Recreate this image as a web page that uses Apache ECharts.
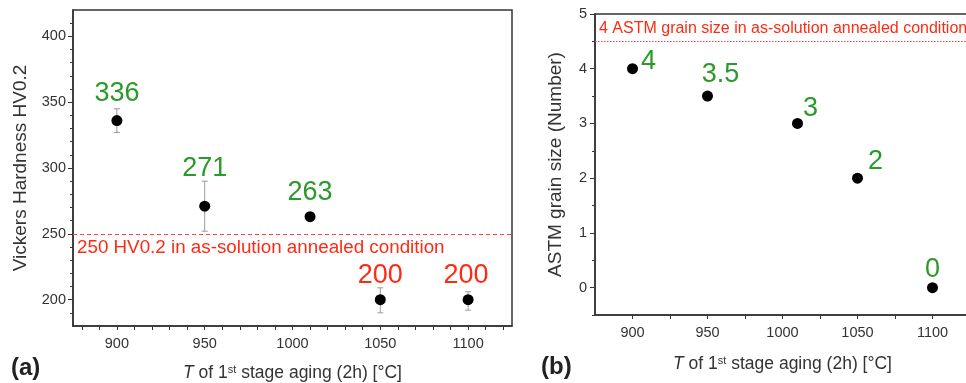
<!DOCTYPE html>
<html>
<head>
<meta charset="utf-8">
<script src="https://cdn.jsdelivr.net/npm/echarts@6/dist/echarts.min.js"></script>
<style>html,body{margin:0;padding:0;background:#fff;}#c{width:966px;height:383px;}</style>
</head>
<body>
<div id="c"></div>
<script>
// ---- Data ----
const tempsA = [900, 950, 1010, 1050, 1100];
const hardness = [336, 271, 263, 200, 200];
const hardErrUp = [345, 290, 263, 209, 206];
const hardErrDown = [327, 252, 263, 190, 192];
const hardLabels = ['336', '271', '263', '200', '200'];
const hardBase = 250;
const hardBaseText = '250 HV0.2 in as-solution annealed condition';

const tempsB = [900, 950, 1010, 1050, 1100];
const grain = [4, 3.5, 3, 2, 0];
const grainLabels = ['4', '3.5', '3', '2', '0'];
const grainBase = 4.5;
const grainBaseText = '4 ASTM grain size in as-solution annealed condition';

const xTickLabels = [900, 950, 1000, 1050, 1100];
const xMinorTicksA = [880, 890, 900, 910, 920, 930, 940, 950, 960, 970, 980, 990, 1000, 1010, 1020, 1030, 1040, 1050, 1060, 1070, 1080, 1090, 1100, 1110, 1120];
const xTicksB = [900, 925, 950, 975, 1000, 1025, 1050, 1075, 1100];
const yTickLabelsA = [200, 250, 300, 350, 400];
const yMinorTicksA = [190, 210, 220, 230, 240, 260, 270, 280, 290, 310, 320, 330, 340, 360, 370, 380, 390, 410];
const yTickLabelsB = [0, 1, 2, 3, 4, 5];
const yMinorTicksB = [-0.5, 0.5, 1.5, 2.5, 3.5, 4.5];

// ---- Styles ----
const FONT = 'Liberation Sans';
const AX = '#333';
const GREEN = '#2a9a2a';
const RED = '#ff2a14';
const LINE_RED = '#ff4040';

const hardLabelColors = ['g', 'g', 'g', 'r', 'r'];
const hardLabelOffsets = [[0, -27], [0, -38], [0, -24], [0, -24], [-2, -24]];
const grainLabelOffsets = [[16, -7.5], [13, -21.5], [13, -14.5], [18, -16.5], [0, -18.5]];

const plain = v => String(v);

function xAxisCfg(gridIndex, labels, ticks, nameGap) {
  return {
    type: 'value', gridIndex, min: 875, max: 1125,
    name: '{i|T} of 1{s|st} stage aging (2h) [°C]', nameLocation: 'middle', nameGap,
    nameTextStyle: {
      fontSize: 17.5, fontFamily: FONT, color: AX,
      rich: {
        i: { fontStyle: 'italic', fontSize: 17.5, fontFamily: FONT, color: AX },
        s: { fontSize: 11, fontFamily: FONT, color: AX, verticalAlign: 'bottom', padding: [0, 0, 8, 0] }
      }
    },
    axisLine: { onZero: false, lineStyle: { color: AX, width: 1.5 } },
    axisTick: { show: true, customValues: ticks, length: 4, lineStyle: { color: AX } },
    axisLabel: { customValues: labels, formatter: plain, fontSize: 14.5, fontFamily: FONT, color: AX, margin: 10 },
    splitLine: { show: false }
  };
}

function errorRender(params, api) {
  const x = api.value(0), lo = api.value(1), hi = api.value(2);
  if (lo === hi) return null;
  const a = api.coord([x, hi]), b = api.coord([x, lo]);
  const w = 3;
  const st = { stroke: '#9a9a9a', lineWidth: 1 };
  return {
    type: 'group', children: [
      { type: 'line', shape: { x1: a[0], y1: a[1], x2: b[0], y2: b[1] }, style: st },
      { type: 'line', shape: { x1: a[0] - w, y1: a[1], x2: a[0] + w, y2: a[1] }, style: st },
      { type: 'line', shape: { x1: b[0] - w, y1: b[1], x2: b[0] + w, y2: b[1] }, style: st }
    ]
  };
}

const chart = echarts.init(document.getElementById('c'), null, { renderer: 'canvas' });
chart.setOption({
  animation: false,
  backgroundColor: '#fff',
  grid: [
    { left: 73, top: 10, right: 454, bottom: 57, show: true, borderColor: AX, borderWidth: 1.5, containLabel: false, outerBoundsMode: 'none' },
    { left: 595, top: 14, right: -4, bottom: 68, show: true, borderColor: AX, borderWidth: 1.5, containLabel: false, outerBoundsMode: 'none' }
  ],
  xAxis: [
    xAxisCfg(0, xTickLabels, xMinorTicksA, 38),
    xAxisCfg(1, xTickLabels, xTicksB, 40)
  ],
  yAxis: [
    {
      type: 'value', gridIndex: 0, min: 180, max: 420, position: 'left',
      name: 'Vickers Hardness HV0.2', nameLocation: 'middle', nameGap: 43,
      nameTextStyle: { fontSize: 19, fontFamily: FONT, color: AX },
      axisLine: { show: true, onZero: false, lineStyle: { color: AX, width: 1.5 } },
      axisTick: { show: true, customValues: yTickLabelsA, length: 5, lineStyle: { color: AX } },
      axisLabel: { customValues: yTickLabelsA, formatter: plain, fontSize: 14.5, fontFamily: FONT, color: AX, margin: 7 },
      splitLine: { show: false }
    },
    {
      type: 'value', gridIndex: 0, min: 180, max: 420, position: 'left',
      axisLine: { show: false, onZero: false },
      axisTick: { show: true, customValues: yMinorTicksA, length: 3, lineStyle: { color: AX } },
      axisLabel: { show: false }, splitLine: { show: false }
    },
    {
      type: 'value', gridIndex: 1, min: -0.5, max: 5, position: 'left',
      name: 'ASTM grain size (Number)', nameLocation: 'middle', nameGap: 30,
      nameTextStyle: { fontSize: 19, fontFamily: FONT, color: AX },
      axisLine: { show: true, onZero: false, lineStyle: { color: AX, width: 1.5 } },
      axisTick: { show: true, customValues: yTickLabelsB, length: 5, lineStyle: { color: AX } },
      axisLabel: { customValues: yTickLabelsB, formatter: plain, fontSize: 14.5, fontFamily: FONT, color: AX, margin: 8 },
      splitLine: { show: false }
    },
    {
      type: 'value', gridIndex: 1, min: -0.5, max: 5, position: 'left',
      axisLine: { show: false, onZero: false },
      axisTick: { show: true, customValues: yMinorTicksB, length: 3, lineStyle: { color: AX } },
      axisLabel: { show: false }, splitLine: { show: false }
    }
  ],
  series: [
    {
      type: 'custom', xAxisIndex: 0, yAxisIndex: 0, z: 1,
      renderItem: errorRender,
      data: tempsA.map((t, i) => [t, hardErrDown[i], hardErrUp[i]])
    },
    {
      type: 'scatter', xAxisIndex: 0, yAxisIndex: 0, z: 3,
      symbolSize: 11, itemStyle: { color: '#000', opacity: 1 },
      data: tempsA.map((t, i) => ({
        value: [t, hardness[i]],
        label: {
          show: true, formatter: hardLabels[i], position: 'inside', offset: hardLabelOffsets[i],
          fontSize: 27, fontFamily: FONT, color: hardLabelColors[i] === 'g' ? GREEN : RED
        }
      })),
      markLine: {
        silent: true, symbol: 'none',
        lineStyle: { color: LINE_RED, type: [4, 3], width: 1, opacity: 1 },
        label: { show: true, position: 'insideStartBottom', formatter: hardBaseText, fontSize: 18.8, fontFamily: FONT, color: RED, distance: [4, 4] },
        data: [{ yAxis: hardBase }]
      }
    },
    {
      type: 'scatter', xAxisIndex: 1, yAxisIndex: 2, z: 3,
      symbolSize: 11, itemStyle: { color: '#000', opacity: 1 },
      data: tempsB.map((t, i) => ({
        value: [t, grain[i]],
        label: {
          show: true, formatter: grainLabels[i], position: 'inside', offset: grainLabelOffsets[i],
          fontSize: 27, fontFamily: FONT, color: GREEN
        }
      })),
      markLine: {
        silent: true, symbol: 'none',
        lineStyle: { color: LINE_RED, type: [1.5, 1.5], width: 1, opacity: 1 },
        label: { show: true, position: 'insideStartTop', formatter: grainBaseText, fontSize: 16, fontFamily: FONT, color: RED, distance: [4, 5] },
        data: [{ yAxis: grainBase }]
      }
    }
  ],
  graphic: [
    { type: 'text', left: 11, top: 356, style: { text: '(a)', font: 'bold 24px "Liberation Sans"', fill: '#222' } },
    { type: 'text', left: 541, top: 355, style: { text: '(b)', font: 'bold 24px "Liberation Sans"', fill: '#222' } }
  ]
});
</script>
</body>
</html>
